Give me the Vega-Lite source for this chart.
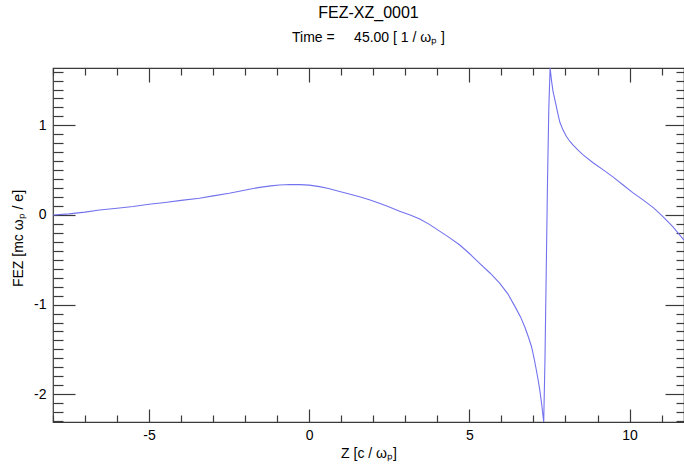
{
  "$schema": "https://vega.github.io/schema/vega-lite/v6.json",
  "autosize": "none",
  "width": 631,
  "height": 354,
  "padding": {"left": 53, "top": 68, "right": 0, "bottom": 45},
  "background": "white",
  "config": {
    "font": "Liberation Sans",
    "view": {"stroke": "#3a3a3a", "strokeWidth": 1.2},
    "axis": {"grid": false, "domain": false, "tickColor": "#3a3a3a", "tickWidth": 1.2, "labelColor": "#000", "titleColor": "#000", "labelFont": "Liberation Sans", "titleFont": "Liberation Sans", "labelFontSize": 14, "titleFontSize": 14, "titleFontWeight": "normal"}
  },
  "title": {
    "text": "FEZ-XZ_0001",
    "subtitle": "Time =\u00a0\u00a0\u00a0\u00a0 45.00 [ 1 / ωₚ ]",
    "anchor": "middle",
    "fontSize": 16,
    "fontWeight": "normal",
    "subtitleFontSize": 14,
    "subtitleColor": "#000",
    "color": "#000",
    "font": "Liberation Sans",
    "subtitleFont": "Liberation Sans",
    "subtitlePadding": 10,
    "offset": 22
  },
  "data": {"values": [
    {"z": -8.0, "fez": 0.0},
    {"z": -7.5, "fez": 0.012},
    {"z": -7.0, "fez": 0.032},
    {"z": -6.55, "fez": 0.056},
    {"z": -6.0, "fez": 0.075},
    {"z": -5.5, "fez": 0.095},
    {"z": -5.0, "fez": 0.12},
    {"z": -4.5, "fez": 0.14},
    {"z": -4.0, "fez": 0.163},
    {"z": -3.43, "fez": 0.187},
    {"z": -3.0, "fez": 0.213},
    {"z": -2.5, "fez": 0.243},
    {"z": -2.18, "fez": 0.265},
    {"z": -1.87, "fez": 0.287},
    {"z": -1.55, "fez": 0.308},
    {"z": -1.2, "fez": 0.325},
    {"z": -0.93, "fez": 0.335},
    {"z": -0.6, "fez": 0.34},
    {"z": -0.3, "fez": 0.339},
    {"z": 0.0, "fez": 0.333},
    {"z": 0.32, "fez": 0.316},
    {"z": 0.6, "fez": 0.295},
    {"z": 0.95, "fez": 0.262},
    {"z": 1.25, "fez": 0.235},
    {"z": 1.57, "fez": 0.203},
    {"z": 1.9, "fez": 0.168},
    {"z": 2.19, "fez": 0.13},
    {"z": 2.5, "fez": 0.09},
    {"z": 2.82, "fez": 0.042},
    {"z": 3.15, "fez": 0.0},
    {"z": 3.45, "fez": -0.045},
    {"z": 3.75, "fez": -0.105},
    {"z": 4.07, "fez": -0.18},
    {"z": 4.4, "fez": -0.258},
    {"z": 4.7, "fez": -0.335},
    {"z": 5.0, "fez": -0.43},
    {"z": 5.32, "fez": -0.54},
    {"z": 5.65, "fez": -0.65},
    {"z": 5.95, "fez": -0.763},
    {"z": 6.2, "fez": -0.88},
    {"z": 6.42, "fez": -1.02},
    {"z": 6.6, "fez": -1.14},
    {"z": 6.73, "fez": -1.25},
    {"z": 6.85, "fez": -1.37},
    {"z": 6.94, "fez": -1.47},
    {"z": 7.02, "fez": -1.6},
    {"z": 7.09, "fez": -1.73},
    {"z": 7.15, "fez": -1.85},
    {"z": 7.2, "fez": -1.96},
    {"z": 7.26, "fez": -2.12},
    {"z": 7.32, "fez": -2.31},
    {"z": 7.36, "fez": -1.6},
    {"z": 7.4, "fez": -0.6},
    {"z": 7.44, "fez": 0.4},
    {"z": 7.48, "fez": 1.2},
    {"z": 7.52, "fez": 1.64},
    {"z": 7.56, "fez": 1.51},
    {"z": 7.61, "fez": 1.38},
    {"z": 7.67, "fez": 1.285},
    {"z": 7.75, "fez": 1.15},
    {"z": 7.82, "fez": 1.04},
    {"z": 7.92, "fez": 0.95},
    {"z": 8.03, "fez": 0.875},
    {"z": 8.14, "fez": 0.82},
    {"z": 8.24, "fez": 0.78},
    {"z": 8.4, "fez": 0.72},
    {"z": 8.55, "fez": 0.67},
    {"z": 8.85, "fez": 0.585},
    {"z": 9.18, "fez": 0.503},
    {"z": 9.5, "fez": 0.42},
    {"z": 9.8, "fez": 0.335},
    {"z": 10.1, "fez": 0.25},
    {"z": 10.42, "fez": 0.168},
    {"z": 10.75, "fez": 0.08},
    {"z": 11.05, "fez": -0.02},
    {"z": 11.35, "fez": -0.13},
    {"z": 11.7, "fez": -0.28}
  ]},
  "resolve": {"axis": {"x": "independent", "y": "independent"}},
  "layer": [
    {
      "mark": {"type": "line", "color": "#7272ee", "strokeWidth": 1.1, "clip": true},
      "encoding": {
        "x": {"field": "z", "type": "quantitative", "scale": {"domain": [-8, 11.7], "nice": false, "zero": false},
          "axis": {"orient": "bottom", "values": [-5, 0, 5, 10], "tickSize": -13, "labelPadding": 19, "labelExpr": "datum.value < 0 ? '-' + abs(datum.value) : '' + datum.value", "title": "Z [c / ωₚ]", "titlePadding": 4}},
        "y": {"field": "fez", "type": "quantitative", "scale": {"domain": [-2.31, 1.64], "nice": false, "zero": false},
          "axis": {"orient": "left", "values": [-2, -1, 0, 1], "tickSize": -22, "labelPadding": 29, "labelExpr": "datum.value < 0 ? '-' + abs(datum.value) : '' + datum.value", "title": "FEZ [mc ωₚ / e]", "titleY": 170, "titlePadding": 8}}
      }
    },
    {
      "mark": {"type": "line", "strokeOpacity": 0},
      "encoding": {
        "x": {"field": "z", "type": "quantitative", "axis": {"orient": "bottom", "values": [-8, -7, -6, -4, -3, -2, -1, 1, 2, 3, 4, 6, 7, 8, 9, 11], "tickSize": -7, "labels": false, "title": null}},
        "y": {"field": "fez", "type": "quantitative", "axis": {"orient": "left", "values": [-2.3, -2.2, -2.1, -1.9, -1.8, -1.7, -1.6, -1.5, -1.4, -1.3, -1.2, -1.1, -0.9, -0.8, -0.7, -0.6, -0.5, -0.4, -0.3, -0.2, -0.1, 0.1, 0.2, 0.3, 0.4, 0.5, 0.6, 0.7, 0.8, 0.9, 1.1, 1.2, 1.3, 1.4, 1.5, 1.6], "tickSize": -10, "labels": false, "title": null}}
      }
    },
    {
      "mark": {"type": "line", "strokeOpacity": 0},
      "encoding": {
        "x": {"field": "z", "type": "quantitative", "axis": {"orient": "top", "values": [-5, 0, 5, 10], "tickSize": -14, "labels": false, "title": null}},
        "y": {"field": "fez", "type": "quantitative", "axis": {"orient": "right", "values": [-2, -1, 0, 1], "tickSize": -19, "labels": false, "title": null}}
      }
    },
    {
      "mark": {"type": "line", "strokeOpacity": 0},
      "encoding": {
        "x": {"field": "z", "type": "quantitative", "axis": {"orient": "top", "values": [-8, -7, -6, -4, -3, -2, -1, 1, 2, 3, 4, 6, 7, 8, 9, 11], "tickSize": -7, "labels": false, "title": null}},
        "y": {"field": "fez", "type": "quantitative", "axis": {"orient": "right", "values": [-2.3, -2.2, -2.1, -1.9, -1.8, -1.7, -1.6, -1.5, -1.4, -1.3, -1.2, -1.1, -0.9, -0.8, -0.7, -0.6, -0.5, -0.4, -0.3, -0.2, -0.1, 0.1, 0.2, 0.3, 0.4, 0.5, 0.6, 0.7, 0.8, 0.9, 1.1, 1.2, 1.3, 1.4, 1.5, 1.6], "tickSize": -8, "labels": false, "title": null}}
      }
    }
  ]
}
